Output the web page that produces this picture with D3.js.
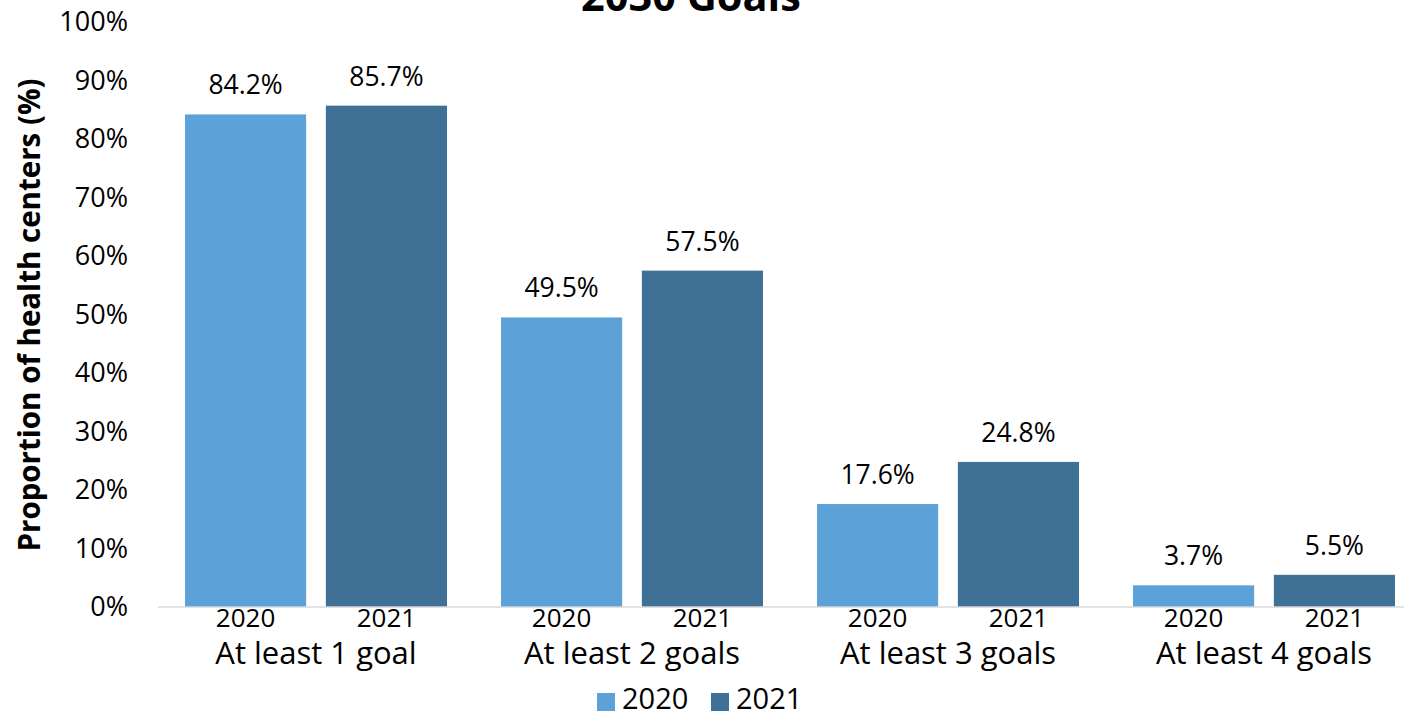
<!DOCTYPE html>
<html>
<head>
<meta charset="utf-8">
<script src="https://cdn.jsdelivr.net/npm/d3@7"></script>
<style>
  html, body { margin: 0; padding: 0; background: #fff; }
  svg { display: block; font-family: "Open Sans", sans-serif; }
</style>
</head>
<body>
<svg id="chart" width="1404" height="713"></svg>
<script>
// Share of health centers meeting 2030 goals, by year
const categories = ["At least 1 goal", "At least 2 goals", "At least 3 goals", "At least 4 goals"];
const years = ["2020", "2021"];
const values2020 = [84.2, 49.5, 17.6, 3.7];
const values2021 = [85.7, 57.5, 24.8, 5.5];
const yTicks = [0, 10, 20, 30, 40, 50, 60, 70, 80, 90, 100];
const colors = ["#5CA2D8", "#3F7096"];

const rows = categories.map((c, i) => ({
  category: c,
  bars: [
    { year: years[0], value: values2020[i] },
    { year: years[1], value: values2021[i] }
  ]
}));

const svg = d3.select("#chart");
const plot = { left: 158, right: 1422, top: 22, bottom: 607 };

const x0 = d3.scaleBand().domain(categories).range([plot.left, plot.right]).paddingInner(0).paddingOuter(0);
const x1 = d3.scaleBand().domain(years).range([27, x0.bandwidth() - 27]).paddingInner(0.14);
const y = d3.scaleLinear().domain([0, 100]).range([plot.bottom, plot.top]);

// Title
svg.append("text")
  .attr("x", 691).attr("y", 11)
  .attr("text-anchor", "middle")
  .attr("font-size", 41.5).attr("font-weight", "bold")
  .text("2030 Goals");

// Y axis labels
const yAxis = d3.axisLeft(y).tickValues(yTicks).tickFormat(d => d + "%").tickSize(0).tickPadding(0);
const yg = svg.append("g").attr("transform", "translate(128,0)").call(yAxis);
yg.select(".domain").remove();
yg.selectAll("text").attr("font-size", 27).attr("fill", "#000").attr("font-family", "'Open Sans', sans-serif");

// Y axis title
svg.append("text")
  .attr("transform", "translate(40,315) rotate(-90)")
  .attr("text-anchor", "middle")
  .attr("font-size", 29.5).attr("font-weight", "bold")
  .text("Proportion of health centers (%)");

// Bars
const groups = svg.append("g").selectAll("g")
  .data(rows).join("g")
  .attr("transform", d => `translate(${x0(d.category)},0)`);

groups.selectAll("rect")
  .data(d => d.bars).join("rect")
  .attr("x", d => x1(d.year))
  .attr("y", d => y(d.value))
  .attr("width", x1.bandwidth())
  .attr("height", d => y(0) - y(d.value))
  .attr("fill", (d, i) => colors[i]);

// Value labels
groups.selectAll("text.value")
  .data(d => d.bars).join("text")
  .attr("class", "value")
  .attr("x", d => x1(d.year) + x1.bandwidth() / 2)
  .attr("y", d => y(d.value) - 20)
  .attr("text-anchor", "middle")
  .attr("font-size", 26.5)
  .text(d => d.value.toFixed(1) + "%");

// Year labels under bars
groups.selectAll("text.year")
  .data(d => d.bars).join("text")
  .attr("class", "year")
  .attr("x", d => x1(d.year) + x1.bandwidth() / 2)
  .attr("y", 627)
  .attr("text-anchor", "middle")
  .attr("font-size", 26)
  .text(d => d.year);

// Category labels
groups.append("text")
  .attr("x", x0.bandwidth() / 2)
  .attr("y", 664)
  .attr("text-anchor", "middle")
  .attr("font-size", 31)
  .text(d => d.category);

// Baseline
svg.append("line")
  .attr("x1", plot.left).attr("x2", plot.right)
  .attr("y1", y(0)).attr("y2", y(0))
  .attr("stroke", "#d9d9d9").attr("stroke-width", 1.5);

// Legend
const legend = svg.append("g").selectAll("g")
  .data(years).join("g")
  .attr("transform", (d, i) => `translate(${597 + i * 114},693)`);
legend.append("rect")
  .attr("width", 18).attr("height", 18)
  .attr("fill", (d, i) => colors[i]);
legend.append("text")
  .attr("x", 25).attr("y", 16)
  .attr("font-size", 29)
  .text(d => d);
</script>
</body>
</html>
